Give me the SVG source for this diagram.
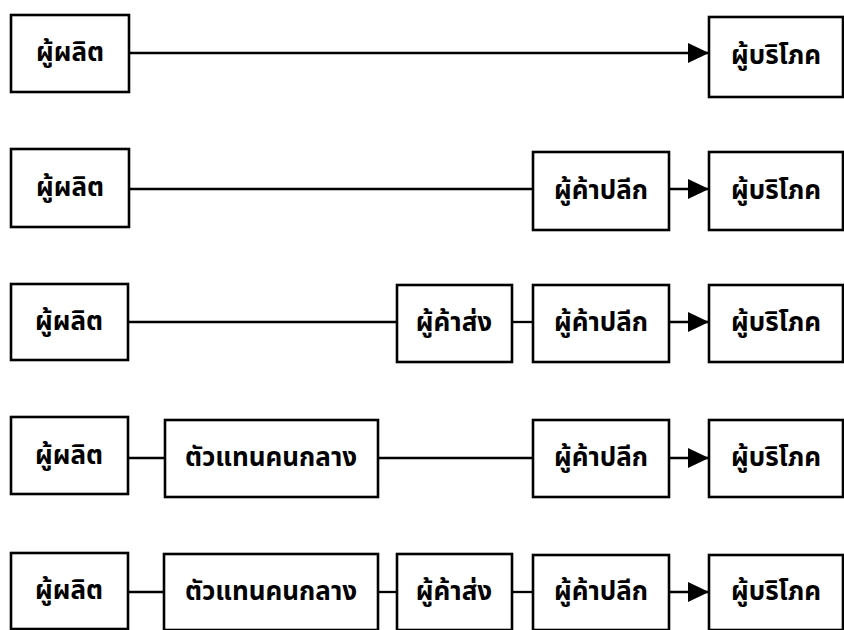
<svg xmlns="http://www.w3.org/2000/svg" width="844" height="630" viewBox="0 0 844 630">
<style>
.box{fill:#fff;stroke:#000;stroke-width:2.6}
.lbl{font-family:"Noto Sans Thai","Noto Sans","DejaVu Sans",sans-serif;font-weight:bold;font-size:26px;fill:#000;text-anchor:middle;dominant-baseline:central}
.ln{stroke:#000;stroke-width:2.3;fill:none}
.arr{stroke:#000;stroke-width:2.3;fill:none;marker-end:url(#ah)}
</style>
<defs>
<marker id="ah" markerUnits="userSpaceOnUse" markerWidth="21" markerHeight="20" refX="21" refY="10" orient="auto" viewBox="0 0 21 20">
<path d="M0,0 L21,10 L0,20 Z" fill="#000"/>
</marker>
</defs>
<rect width="844" height="630" fill="#fff"/>
<g id="connectors">
<line class="arr" x1="129" y1="53" x2="709" y2="53"/>
<line class="ln" x1="129" y1="189" x2="533" y2="189"/>
<line class="arr" x1="669" y1="189" x2="709" y2="189"/>
<line class="ln" x1="128" y1="322" x2="397" y2="322"/>
<line class="ln" x1="512" y1="322" x2="533" y2="322"/>
<line class="arr" x1="669" y1="322" x2="709" y2="322"/>
<line class="ln" x1="128" y1="458" x2="165" y2="458"/>
<line class="ln" x1="378" y1="458" x2="533" y2="458"/>
<line class="arr" x1="669" y1="458" x2="709" y2="458"/>
<line class="ln" x1="128" y1="592" x2="164" y2="592"/>
<line class="ln" x1="378" y1="592" x2="397" y2="592"/>
<line class="ln" x1="512" y1="592" x2="533" y2="592"/>
<line class="arr" x1="669" y1="592" x2="709" y2="592"/>
</g>
<g id="r1-producer"><rect class="box" x="11" y="15" width="118" height="77"/><text class="lbl" x="70" y="53">ผู้ผลิต</text></g>
<g id="r1-consumer"><rect class="box" x="709" y="17" width="134" height="80"/><text class="lbl" x="776" y="56">ผู้บริโภค</text></g>

<g id="r2-producer"><rect class="box" x="11" y="149" width="118" height="78"/><text class="lbl" x="70" y="188">ผู้ผลิต</text></g>
<g id="r2-retailer"><rect class="box" x="533" y="152" width="136" height="78"/><text class="lbl" x="601" y="191">ผู้ค้าปลีก</text></g>
<g id="r2-consumer"><rect class="box" x="709" y="152" width="134" height="78"/><text class="lbl" x="776" y="191">ผู้บริโภค</text></g>

<g id="r3-producer"><rect class="box" x="11" y="284" width="117" height="76"/><text class="lbl" x="69" y="322">ผู้ผลิต</text></g>
<g id="r3-wholesaler"><rect class="box" x="397" y="285" width="115" height="77"/><text class="lbl" x="454" y="323">ผู้ค้าส่ง</text></g>
<g id="r3-retailer"><rect class="box" x="533" y="285" width="136" height="77"/><text class="lbl" x="601" y="323">ผู้ค้าปลีก</text></g>
<g id="r3-consumer"><rect class="box" x="709" y="285" width="134" height="77"/><text class="lbl" x="776" y="323">ผู้บริโภค</text></g>

<g id="r4-producer"><rect class="box" x="11" y="417" width="117" height="77"/><text class="lbl" x="69" y="456">ผู้ผลิต</text></g>
<g id="r4-agent"><rect class="box" x="165" y="420" width="213" height="77"/><text class="lbl" x="271" y="458">ตัวแทนคนกลาง</text></g>
<g id="r4-retailer"><rect class="box" x="533" y="420" width="136" height="77"/><text class="lbl" x="601" y="458">ผู้ค้าปลีก</text></g>
<g id="r4-consumer"><rect class="box" x="709" y="420" width="134" height="77"/><text class="lbl" x="776" y="458">ผู้บริโภค</text></g>

<g id="r5-producer"><rect class="box" x="11" y="553" width="117" height="76"/><text class="lbl" x="69" y="591">ผู้ผลิต</text></g>
<g id="r5-agent"><rect class="box" x="164" y="554" width="214" height="76"/><text class="lbl" x="271" y="592">ตัวแทนคนกลาง</text></g>
<g id="r5-wholesaler"><rect class="box" x="397" y="554" width="115" height="76"/><text class="lbl" x="454" y="592">ผู้ค้าส่ง</text></g>
<g id="r5-retailer"><rect class="box" x="533" y="555" width="136" height="75"/><text class="lbl" x="601" y="592">ผู้ค้าปลีก</text></g>
<g id="r5-consumer"><rect class="box" x="709" y="555" width="134" height="75"/><text class="lbl" x="776" y="592">ผู้บริโภค</text></g>
</svg>
